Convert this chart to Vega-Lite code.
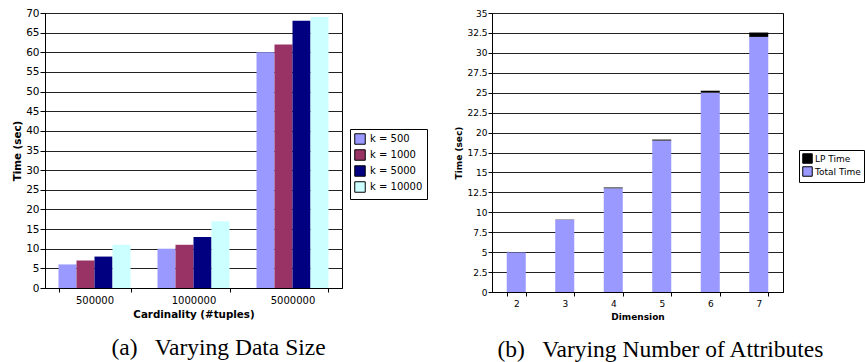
{
  "$schema": "https://vega.github.io/schema/vega-lite/v6.json",
  "padding": {"left": 12, "top": 7, "right": 0, "bottom": 0},
  "background": "white",
  "config": {
    "font": "DejaVu Sans",
    "view": {"stroke": "black", "strokeWidth": 1},
    "axis": {"labelColor": "black", "titleColor": "black", "tickColor": "black", "domainColor": "black", "gridColor": "#222222", "gridWidth": 1.2, "gridOpacity": 1, "labelFont": "DejaVu Sans", "titleFont": "DejaVu Sans"},
    "legend": {"labelColor": "black", "labelFont": "DejaVu Sans"},
    "title": {"color": "black"}
  },
  "spacing": 150,
  "bounds": "flush",
  "resolve": {"scale": {"x": "independent", "y": "independent", "color": "independent", "xOffset": "independent"}, "legend": {"color": "independent"}},
  "hconcat": [
    {
      "width": 297,
      "height": 275,
      "title": {"text": "(a)\u00a0\u00a0 Varying Data Size", "orient": "bottom", "font": "Liberation Serif", "fontSize": 23.5, "fontWeight": "normal", "offset": 17, "anchor": "middle", "dx": 25},
      "data": {"values": [
        {"cardinality": "500000", "k": "k = 500", "time": 6},
        {"cardinality": "500000", "k": "k = 1000", "time": 7},
        {"cardinality": "500000", "k": "k = 5000", "time": 8},
        {"cardinality": "500000", "k": "k = 10000", "time": 11},
        {"cardinality": "1000000", "k": "k = 500", "time": 10},
        {"cardinality": "1000000", "k": "k = 1000", "time": 11},
        {"cardinality": "1000000", "k": "k = 5000", "time": 13},
        {"cardinality": "1000000", "k": "k = 10000", "time": 17},
        {"cardinality": "5000000", "k": "k = 500", "time": 60},
        {"cardinality": "5000000", "k": "k = 1000", "time": 62},
        {"cardinality": "5000000", "k": "k = 5000", "time": 68},
        {"cardinality": "5000000", "k": "k = 10000", "time": 69}
      ]},
      "mark": {"type": "bar"},
      "encoding": {
        "x": {"field": "cardinality", "type": "ordinal", "sort": ["500000", "1000000", "5000000"],
          "scale": {"paddingInner": 0.2727, "paddingOuter": 0.1364},
          "axis": {"title": "Cardinality (#tuples)", "labelAngle": 0, "tickBand": "extent", "labelFontSize": 10, "titleFontSize": 10.3, "titleFontWeight": "bold", "tickSize": 4, "labelPadding": 3, "titlePadding": 4}},
        "xOffset": {"field": "k", "type": "nominal", "sort": ["k = 500", "k = 1000", "k = 5000", "k = 10000"], "scale": {"paddingInner": 0, "paddingOuter": 0}},
        "y": {"field": "time", "type": "quantitative", "scale": {"domain": [0, 70], "nice": false},
          "axis": {"title": "Time (sec)", "values": [0, 5, 10, 15, 20, 25, 30, 35, 40, 45, 50, 55, 60, 65, 70], "labelFontSize": 10.5, "titleFontSize": 10.3, "titleFontWeight": "bold", "tickSize": 5, "labelPadding": 1, "titlePadding": 3, "grid": true}},
        "color": {"field": "k", "type": "nominal", "sort": ["k = 500", "k = 1000", "k = 5000", "k = 10000"],
          "scale": {"domain": ["k = 500", "k = 1000", "k = 5000", "k = 10000"], "range": ["#9999FF", "#993366", "#000080", "#CCFFFF"]},
          "legend": {"title": null, "orient": "none", "legendX": 305, "legendY": 116, "strokeColor": "black", "padding": 4, "symbolType": "square", "symbolSize": 110, "symbolStrokeColor": "black", "symbolStrokeWidth": 1, "symbolOpacity": 1, "labelFontSize": 10, "rowPadding": 0, "labelOffset": 4}}
      }
    },
    {
      "width": 291,
      "height": 279,
      "title": {"text": "(b)\u00a0\u00a0 Varying Number of Attributes", "orient": "bottom", "font": "Liberation Serif", "fontSize": 23.5, "fontWeight": "normal", "offset": 17, "anchor": "middle", "dx": 23},
      "data": {"values": [
        {"dimension": "2", "series": "Total Time", "time": 5.0},
        {"dimension": "2", "series": "LP Time", "time": 0.03},
        {"dimension": "3", "series": "Total Time", "time": 9.05},
        {"dimension": "3", "series": "LP Time", "time": 0.05},
        {"dimension": "4", "series": "Total Time", "time": 13.0},
        {"dimension": "4", "series": "LP Time", "time": 0.1},
        {"dimension": "5", "series": "Total Time", "time": 19.0},
        {"dimension": "5", "series": "LP Time", "time": 0.12},
        {"dimension": "6", "series": "Total Time", "time": 25.0},
        {"dimension": "6", "series": "LP Time", "time": 0.25},
        {"dimension": "7", "series": "Total Time", "time": 32.0},
        {"dimension": "7", "series": "LP Time", "time": 0.55}
      ]},
      "mark": {"type": "bar"},
      "encoding": {
        "x": {"field": "dimension", "type": "ordinal",
          "scale": {"paddingInner": 0.608, "paddingOuter": 0.304},
          "axis": {"title": "Dimension", "labelAngle": 0, "tickBand": "extent", "labelFontSize": 9, "titleFontSize": 9, "titleFontWeight": "bold", "tickSize": 4, "labelPadding": 3, "titlePadding": 4}},
        "y": {"field": "time", "type": "quantitative", "stack": "zero", "scale": {"domain": [0, 35], "nice": false},
          "axis": {"title": "Time (sec)", "values": [0, 2.5, 5, 7.5, 10, 12.5, 15, 17.5, 20, 22.5, 25, 27.5, 30, 32.5, 35], "labelExpr": "datum.value + ''", "labelFontSize": 9, "titleFontSize": 9, "titleFontWeight": "bold", "tickSize": 4, "labelPadding": 1, "titlePadding": 3, "grid": true}},
        "color": {"field": "series", "type": "nominal",
          "scale": {"domain": ["LP Time", "Total Time"], "range": ["#000000", "#9999FF"]},
          "legend": {"title": null, "orient": "none", "legendX": 307, "legendY": 137, "strokeColor": "black", "padding": 3, "symbolType": "square", "symbolSize": 90, "symbolStrokeColor": "black", "symbolStrokeWidth": 1, "symbolOpacity": 1, "labelFontSize": 9, "rowPadding": -2, "labelOffset": 2}},
        "order": {"field": "series", "sort": "descending"}
      }
    }
  ]
}
